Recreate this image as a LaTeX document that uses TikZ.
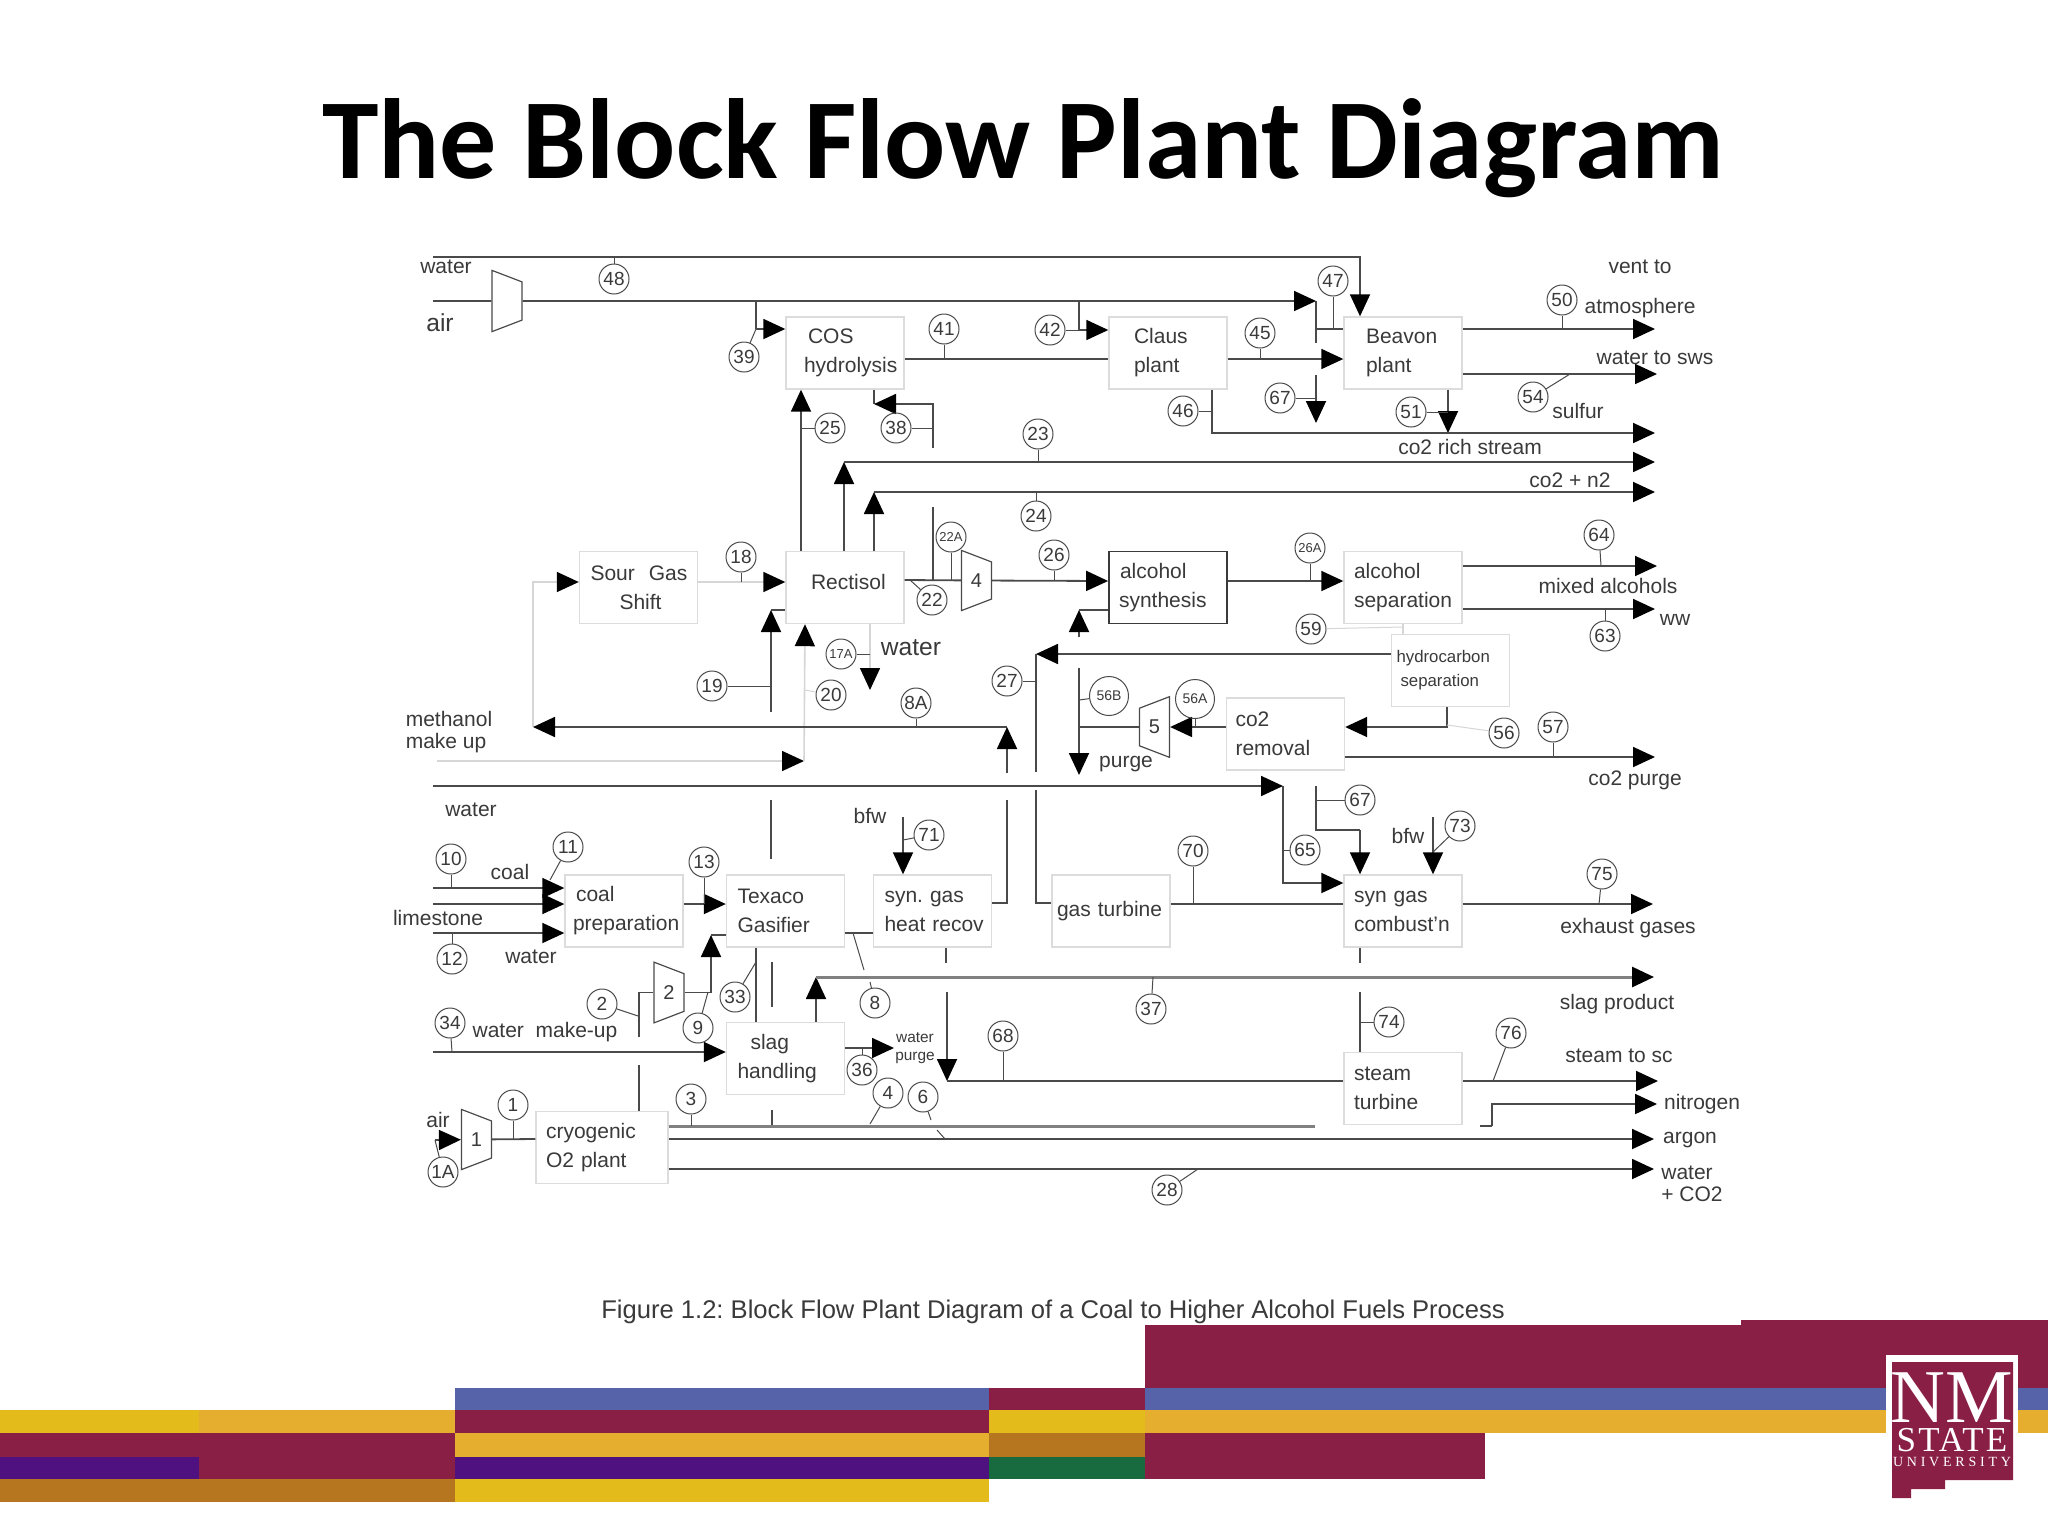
\documentclass[tikz,border=0pt]{standalone}
\usepackage{fontspec}
\setmainfont{Liberation Sans}
\newfontfamily\titlefont{Carlito}
\newfontfamily\logofont{Liberation Serif}
\usetikzlibrary{
  positioning,
  shapes.geometric,
  arrows.meta,
  calc,
}
\frenchspacing
\definecolor{ink}{HTML}{3A3A3A}
\definecolor{wireCol}{HTML}{4A4A4A}
\definecolor{heavyCol}{HTML}{808080}
\definecolor{paleCol}{HTML}{D6D6D6}
\definecolor{boxLine}{HTML}{DCDCDC}
\definecolor{bandMaroon}{HTML}{8A1F45}
\definecolor{bandBlue}{HTML}{5663A8}
\definecolor{bandGold}{HTML}{E6AE2E}
\definecolor{bandYellow}{HTML}{E3BC1C}
\definecolor{bandBrown}{HTML}{B5761F}
\definecolor{bandPurple}{HTML}{4F1080}
\definecolor{bandGreen}{HTML}{176B3F}
\newcommand{\ind}[1]{\hspace*{#1pt}}
\tikzset{
  box/.style={
    rectangle, draw=boxLine, line width=0.7pt, text=ink,
    minimum width=59pt, minimum height=36pt, text width=59pt, align=left,
    inner xsep=0pt, inner ysep=0pt, font=\fontsize{10.5}{14.5}\selectfont,
  },
  darkbox/.style={box, draw=ink, line width=0.9pt},
  smallbox/.style={box, font=\fontsize{8.4}{12}\selectfont},
  tag/.style={
    circle, draw=wireCol, line width=0.5pt, text=ink, minimum size=15pt,
    inner sep=0pt, font=\fontsize{9.5}{11}\selectfont,
  },
  tinytag/.style={tag, font=\fontsize{6.5}{8}\selectfont},
  widetag/.style={tag, minimum size=19.5pt, font=\fontsize{7}{8}\selectfont},
  comp/.style={
    trapezium, draw=wireCol, line width=0.6pt, fill=white, text=ink,
    trapezium left angle=69, trapezium right angle=69,
    minimum width=29pt, minimum height=15pt, inner sep=0pt,
    font=\fontsize{10}{12}\selectfont,
  },
  compR/.style={comp, shape border rotate=270},
  compL/.style={comp, shape border rotate=90},
  pipe/.style={wireCol, line width=0.9pt},
  feed/.style={pipe, -{Triangle[length=11pt, width=10pt, color=black]}},
  palepipe/.style={paleCol, line width=0.8pt},
  palefeed/.style={palepipe, -{Triangle[length=11pt, width=10pt, color=black]}},
  heavypipe/.style={heavyCol, line width=1.5pt},
  heavyfeed/.style={heavypipe, -{Triangle[length=11pt, width=10pt, color=black]}},
  leader/.style={wireCol, line width=0.5pt},
  paleleader/.style={paleCol, line width=0.5pt},
  flowtext/.style={text=ink, inner sep=0pt, align=left, font=\fontsize{10.5}{11}\selectfont},
  bigtext/.style={flowtext, font=\fontsize{12.3}{14}\selectfont},
  tinytext/.style={flowtext, font=\fontsize{7.7}{8.7}\selectfont},
}
\begin{document}
\begin{tikzpicture}[x=0.5pt, y=-0.5pt]

  \useasboundingbox (0,0) rectangle (2048,1536);
  \fill[white] (0,0) rectangle (2048,1536);

  % Colour bands
  \fill[bandYellow] (0,1410) rectangle (199,1433);
  \fill[bandMaroon] (0,1433) rectangle (199,1457);
  \fill[bandPurple] (0,1457) rectangle (199,1479);
  \fill[bandBrown] (0,1479) rectangle (455,1502);
  \fill[bandGold] (199,1410) rectangle (455,1433);
  \fill[bandMaroon] (199,1433) rectangle (455,1479);
  \fill[bandBlue] (455,1388) rectangle (989,1410);
  \fill[bandMaroon] (455,1410) rectangle (989,1433);
  \fill[bandGold] (455,1433) rectangle (989,1457);
  \fill[bandPurple] (455,1457) rectangle (989,1479);
  \fill[bandYellow] (455,1479) rectangle (989,1502);
  \fill[bandMaroon] (989,1388) rectangle (1145,1410);
  \fill[bandYellow] (989,1410) rectangle (1145,1433);
  \fill[bandBrown] (989,1433) rectangle (1145,1457);
  \fill[bandGreen] (989,1457) rectangle (1145,1479);
  \fill[bandMaroon] (1145,1325) rectangle (1741,1388);
  \fill[bandMaroon] (1741,1320) rectangle (2048,1388);
  \fill[bandBlue] (1145,1388) rectangle (2048,1410);
  \fill[bandGold] (1145,1410) rectangle (2048,1433);
  \fill[bandMaroon] (1145,1433) rectangle (1485,1479);

  % Logo
  \fill[white] (1886,1355) rectangle (2018,1440);
  \fill[bandMaroon] (1892,1362) -- (2013,1362) -- (2013,1480) -- (1945,1480) -- (1945,1489) -- (1911,1489) -- (1911,1498) -- (1892,1498) -- cycle;
  \node[white, inner sep=0pt, align=center, font=\logofont\fontsize{7}{14.5}\selectfont\lineskiplimit-100pt\relax] (logo) at (1952,1420) {{\fontsize{38}{14.5}\selectfont NM}\\{\fontsize{17.5}{14.5}\selectfont\addfontfeature{LetterSpace=6}STATE}\\[-7pt]{\addfontfeature{LetterSpace=27}UNIVERSITY}};

  % Title
  \node[black, inner sep=0pt, anchor=base, font=\titlefont\bfseries\fontsize{57}{60}\selectfont] (title) at (1023,178) {The Block Flow Plant Diagram};
  \node[ink, inner sep=0pt, font=\fontsize{12.8}{14}\selectfont] (caption) at (1053,1312) {Figure 1.2: Block Flow Plant Diagram of a Coal to Higher Alcohol Fuels Process};

  % Blocks
  \node[box] (cos) at (845,353) {\ind{11}COS\\\ind{9}hydrolysis};
  \node[box] (claus) at (1168,353) {\ind{12.5}Claus\\\ind{12.5}plant};
  \node[box] (beavon) at (1403,353) {\ind{11}Beavon\\\ind{11}plant};
  \node[box] (sour) at (638.5,587.5) {\ind{5.5}Sour\ \ Gas\\\ind{20}Shift};
  \node[box] (rectisol) at (845,587.5) {\ind{12.5}\raisebox{5.5pt}{Rectisol}};
  \node[darkbox] (alcSyn) at (1168,587.5) {\ind{5.5}alcohol\\\ind{5}synthesis};
  \node[box] (alcSep) at (1403,587.5) {\ind{5}alcohol\\\ind{5}separation};
  \node[smallbox] (hydro) at (1450.5,670.5) {\ind{2.5}hydrocarbon\\\ind{4.5}separation};
  \node[box] (co2rem) at (1285.5,734) {\ind{4.5}co2\\\ind{4.5}removal};
  \node[box] (coalPrep) at (624,911) {\ind{5.5}coal\\\ind{4}preparation};
  \node[box] (texaco) at (785.5,911) {\ind{5.5}Texaco\\\ind{5.5}Gasifier};
  \node[box] (heatRec) at (932.5,911) {\ind{5.5}syn. gas\\\ind{5.5}heat recov};
  \node[box] (gasTurb) at (1111,911) {\ind{2.5}gas turbine};
  \node[box] (synComb) at (1403,911) {\ind{5}syn gas\\\ind{5}combust'n};
  \node[box] (slag) at (785.5,1058.5) {\ind{12}slag\\\ind{5.5}handling};
  \node[box] (steam) at (1403,1088.5) {\ind{5}steam\\\ind{5}turbine};
  \node[box, minimum width=66pt, text width=66pt] (cryo) at (602,1147.5) {\ind{5}cryogenic\\\ind{5}O2 plant};

  % Compressors
  \node[compR] (compAir) at (507,301) {\phantom{0}};
  \node[compR] (comp1) at (476.5,1139.5) {1};
  \node[compR] (comp2) at (669,992.5) {2};
  \node[compR] (comp4) at (976.5,580.5) {4};
  \node[compL] (comp5) at (1154.5,727) {5};

  % Top streams
  \coordinate (waterIn) at (433,257);
  \coordinate (waterDrop) at (1360,257);
  \coordinate (airIn) at (433,301);
  \coordinate (airTip) at (1316,301);
  \coordinate (cosTap) at (756,301);
  \coordinate (cosCorner) at (756,329);
  \coordinate (clausTap) at (1079,301);
  \coordinate (beavonStub) at (1316,343);
  \coordinate (beavonTap) at (1316,329);
  \coordinate (drop67) at (1316,375);
  \coordinate (tip67) at (1316,423);
  \coordinate (rowVent) at (1655,329);
  \coordinate (rowSws) at (1657,374);
  \coordinate (rowRich) at (1655,433);
  \coordinate (sulfurTip) at (1448,433);

  \draw[feed] (waterIn) -- (waterDrop) -- ([xshift=-21.5pt]beavon.north);
  \draw[pipe] (airIn) -- (compAir);
  \draw[feed] (compAir) -- (airTip);
  \draw[pipe] (airTip) -- (beavonStub);
  \draw[pipe] (beavonTap) -- ([yshift=12pt]beavon.west);
  \draw[feed] (drop67) -- (tip67);
  \draw[pipe] (cosTap) -- (cosCorner);
  \draw[feed] (cosCorner) -- ([yshift=12pt]cos.west);
  \draw[feed] (clausTap) |- ([yshift=11.5pt]claus.west);
  \draw[pipe] ([yshift=-3pt]cos.east) -- ([yshift=-3pt]claus.west);
  \draw[feed] ([yshift=-3pt]claus.east) -- ([yshift=-3pt]beavon.west);
  \draw[feed] ([yshift=12pt]beavon.east) -- (rowVent);
  \draw[feed] ([yshift=-10.5pt]beavon.east) -- (rowSws);
  \draw[feed] ([xshift=22.5pt]beavon.south) -- (sulfurTip);
  \draw[feed] ([xshift=22pt]claus.south) |- (rowRich);

  % Rectisol streams
  \coordinate (co2Corner) at (844,462);
  \coordinate (rowCo2) at (1655,462);
  \coordinate (n2Corner) at (874,492);
  \coordinate (rowN2) at (1655,492);
  \coordinate (recyEnd) at (933,448);
  \coordinate (recyTip) at (874,404);
  \coordinate (stub22) at (933,507);
  \coordinate (east22) at (933,580);
  \coordinate (waterTip) at (870,690);
  \coordinate (methEnd) at (804,761);
  \coordinate (methIn) at (437,761);
  \coordinate (methTip) at (533,727);
  \coordinate (wetTip) at (1007,727);
  \coordinate (wetHigh) at (1007,773);
  \coordinate (wetLow) at (1007,800);
  \coordinate (gasTip) at (771,610);
  \coordinate (gasA) at (771,712);
  \coordinate (gasB) at (771,800);
  \coordinate (gasC) at (771,859);
  \coordinate (gasD) at (772,962);
  \coordinate (gasE) at (772,1007);
  \coordinate (gasF) at (772,1110);
  \coordinate (gasG) at (772,1125);

  \draw[feed] ([xshift=-22pt]rectisol.north) -- ([xshift=-22pt]cos.south);
  \draw[feed] ([xshift=-0.5pt]rectisol.north) -- (co2Corner);
  \draw[feed] (co2Corner) -- (rowCo2);
  \draw[feed] ([xshift=14.5pt]rectisol.north) -- (n2Corner);
  \draw[feed] (n2Corner) -- (rowN2);
  \draw[pipe] ([xshift=14.5pt]cos.south) -- (recyTip);
  \draw[feed] (recyEnd) |- (recyTip);
  \draw[pipe] (stub22) -- (east22);
  \draw[pipe] ([yshift=3.75pt]rectisol.east) -- (comp4);
  \draw[feed] (comp4) -- ([yshift=3.25pt]alcSyn.west);
  \draw[palefeed] ([yshift=2.75pt]sour.east) -- ([yshift=2.75pt]rectisol.west);
  \draw[palefeed] (methTip) |- ([yshift=2.75pt]sour.west);
  \draw[palefeed] ([xshift=12.5pt]rectisol.south) -- (waterTip);
  \draw[palefeed] (methIn) -- (methEnd);
  \draw[palefeed] (methEnd) -- ([xshift=-20pt]rectisol.south);
  \draw[feed] (wetTip) -- (methTip);
  \draw[feed] (wetHigh) -- (wetTip);
  \draw[pipe] ([yshift=4pt]heatRec.east) -| (wetLow);
  \draw[feed] (gasA) -- (gasTip);
  \draw[pipe] (gasTip) -- (gasTip -| rectisol.west);
  \draw[pipe] (gasB) -- (gasC);
  \draw[pipe] (gasD) -- (gasE);
  \draw[pipe] (gasF) -- (gasG);

  % Alcohol and co2 streams
  \coordinate (rowMixed) at (1657,566);
  \coordinate (rowWw) at (1655,609);
  \coordinate (synStub) at (1079,637);
  \coordinate (synCorner) at (1079,610);
  \coordinate (backTip) at (1036,654);
  \coordinate (backLow) at (1036,772);
  \coordinate (backHigh) at (1036,790);
  \coordinate (purgeTop) at (1079,668);
  \coordinate (purgeTip) at (1079,775);
  \coordinate (purgeTee) at (1079,727);
  \coordinate (rowPurge) at (1655,757);

  \draw[feed] ([yshift=3.25pt]alcSyn.east) -- ([yshift=3.25pt]alcSep.west);
  \draw[feed] ([yshift=10.75pt]alcSep.east) -- (rowMixed);
  \draw[feed] ([yshift=-10.75pt]alcSep.east) -- (rowWw);
  \draw[palepipe] (alcSep.south) -- (alcSep.south |- hydro.north);
  \draw[feed] ([yshift=8.25pt]hydro.west) -- (backTip);
  \draw[pipe] (backTip) -- (backLow);
  \draw[pipe] (backHigh) |- ([yshift=4pt]gasTurb.west);
  \draw[feed] (synStub) -- (synCorner);
  \draw[pipe] (synCorner) -- ([yshift=-11.25pt]alcSyn.west);
  \draw[feed] (purgeTop) -- (purgeTip);
  \draw[pipe] (comp5) -- (purgeTee);
  \draw[feed] ([yshift=3.5pt]co2rem.west) -- (comp5);
  \draw[feed] ([xshift=-1.75pt]hydro.south) |- ([yshift=3.5pt]co2rem.east);
  \draw[feed] ([yshift=-11.5pt]co2rem.east) -- (rowPurge);

  % Process water and syn gas
  \coordinate (waterLow) at (433,786);
  \coordinate (waterTee) at (1283,786);
  \coordinate (stub67) at (1316,786);
  \coordinate (corner67) at (1360,830);
  \coordinate (bfwComb) at (1433,817);
  \coordinate (bfwHeat) at (903,817);
  \coordinate (rowExhaust) at (1653,904);
  \coordinate (combLow) at (1360,963);
  \coordinate (steamHigh) at (1360,992);

  \draw[feed] (waterLow) -- (waterTee);
  \draw[feed] (waterTee) |- ([yshift=14pt]synComb.west);
  \draw[pipe] (stub67) |- (corner67);
  \draw[feed] (corner67) -- ([xshift=-21.5pt]synComb.north);
  \draw[feed] (bfwComb) -- ([xshift=15pt]synComb.north);
  \draw[feed] (bfwHeat) -- ([xshift=-14.75pt]heatRec.north);
  \draw[pipe] ([yshift=3.5pt]gasTurb.east) -- ([yshift=3.5pt]synComb.west);
  \draw[feed] ([yshift=3.5pt]synComb.east) -- (rowExhaust);
  \draw[pipe] ([xshift=-21.5pt]synComb.south) -- (combLow);
  \draw[pipe] (steamHigh) -- ([xshift=-21.5pt]steam.north);

  % Coal feed and gasifier
  \coordinate (coalIn) at (433,888);
  \coordinate (limeIn) at (433,904);
  \coordinate (coalWater) at (433,933);
  \coordinate (o2A) at (639,1065);
  \coordinate (o2B) at (639,1037);
  \coordinate (compTip) at (711,935);
  \coordinate (mkIn) at (433,1052);

  \draw[feed] (coalIn) -- ([yshift=11.5pt]coalPrep.west);
  \draw[feed] (limeIn) -- ([yshift=3.5pt]coalPrep.west);
  \draw[feed] (coalWater) -- ([yshift=-11pt]coalPrep.west);
  \draw[feed] ([yshift=3.5pt]coalPrep.east) -- ([yshift=3.5pt]texaco.west);
  \draw[pipe] ([xshift=18.5pt]cryo.north) -- (o2A);
  \draw[pipe] (o2B) |- (comp2);
  \draw[feed] (comp2) -| (compTip);
  \draw[pipe] (compTip) -- (compTip -| texaco.west);
  \draw[pipe] ([xshift=-14.75pt]texaco.south) -- ([xshift=-14.75pt]slag.north);
  \draw[pipe] ([yshift=-11pt]texaco.east) -- ([yshift=-11pt]heatRec.west);
  \draw[feed] (mkIn) -- ([yshift=3.25pt]slag.west);

  % Slag, steam and air
  \coordinate (slagCorner) at (816,977);
  \coordinate (rowSlag) at (1654,977);
  \coordinate (purgeOut) at (894,1048);
  \coordinate (heatA) at (946,963);
  \coordinate (heatB) at (947,992);
  \coordinate (heatC) at (947,1081);
  \coordinate (rowSteam) at (1658,1081);
  \coordinate (nitEnd) at (1480,1126);
  \coordinate (nitCorner) at (1492,1126);
  \coordinate (rowNit) at (1657,1104);
  \coordinate (heavyEnd) at (1315,1126);
  \coordinate (rowArgon) at (1654,1139);
  \coordinate (rowCo2w) at (1654,1169);
  \coordinate (airLow) at (435,1140);

  \draw[feed] ([xshift=15.25pt]slag.north) -- (slagCorner);
  \draw[heavyfeed] (slagCorner) -- (rowSlag);
  \draw[feed] ([yshift=5.25pt]slag.east) -- (purgeOut);
  \draw[pipe] ([xshift=6.75pt]heatRec.south) -- (heatA);
  \draw[feed] (heatB) -- (heatC);
  \draw[pipe] (heatC) -- ([yshift=3.75pt]steam.west);
  \draw[feed] ([yshift=3.75pt]steam.east) -- (rowSteam);
  \draw[pipe] (nitEnd) -- (nitCorner);
  \draw[feed] (nitCorner) |- (rowNit);
  \draw[heavypipe] ([yshift=10.75pt]cryo.east) -- (heavyEnd);
  \draw[feed] ([yshift=4.25pt]cryo.east) -- (rowArgon);
  \draw[feed] ([yshift=-10.75pt]cryo.east) -- (rowCo2w);
  \draw[feed] (airLow) -- (comp1);
  \draw[pipe] (comp1) -- ([yshift=4.25pt]cryo.west);

  % Stream tags
  \node[tag] (t48) at (614,279) {48}; \coordinate (j48) at (614,257); \draw[leader] (t48) -- (j48);
  \node[tag] (t39) at (744,357) {39}; \draw[leader] (t39) -- (cosCorner);
  \node[tag] (t41) at (944,329) {41}; \coordinate (j41) at (944,359); \draw[leader] (t41) -- (j41);
  \node[tag] (t42) at (1050,330) {42}; \coordinate (j42) at (1079,330); \draw[leader] (t42) -- (j42);
  \node[tag] (t45) at (1260,333) {45}; \coordinate (j45) at (1260,359); \draw[leader] (t45) -- (j45);
  \node[tag] (t47) at (1333,281) {47}; \coordinate (j47) at (1333,329); \draw[leader] (t47) -- (j47);
  \node[tag] (t50) at (1562,300) {50}; \coordinate (j50) at (1562,329); \draw[leader] (t50) -- (j50);
  \node[tag] (t54) at (1533,397) {54}; \coordinate (j54) at (1570,374); \draw[leader] (t54) -- (j54);
  \node[tag] (t67a) at (1280,398) {67}; \coordinate (j67a) at (1316,398); \draw[leader] (t67a) -- (j67a);
  \node[tag] (t46) at (1183,411) {46}; \coordinate (j46) at (1212,411); \draw[leader] (t46) -- (j46);
  \node[tag] (t51) at (1411,412) {51}; \coordinate (j51) at (1448,412); \draw[leader] (t51) -- (j51);
  \node[tag] (t23) at (1038,434) {23}; \coordinate (j23) at (1038,462); \draw[leader] (t23) -- (j23);
  \node[tag] (t25) at (830,428) {25}; \coordinate (j25) at (801,428); \draw[leader] (t25) -- (j25);
  \node[tag] (t38) at (896,428) {38}; \coordinate (j38) at (933,428); \draw[leader] (t38) -- (j38);
  \node[tag] (t24) at (1036,516) {24}; \coordinate (j24) at (1036,492); \draw[leader] (t24) -- (j24);
  \node[tag] (t18) at (741,557) {18}; \coordinate (j18) at (741,582); \draw[leader] (t18) -- (j18);
  \node[tinytag] (t22A) at (951,537) {22A}; \coordinate (j22A) at (951,580); \draw[leader] (t22A) -- (j22A);
  \node[tag] (t22) at (932,600) {22}; \coordinate (j22) at (910,580); \draw[leader] (t22) -- (j22);
  \node[tag] (t26) at (1054,555) {26}; \coordinate (j26) at (1054,581); \draw[leader] (t26) -- (j26);
  \node[tinytag] (t26A) at (1310,548) {26A}; \coordinate (j26A) at (1310,581); \draw[leader] (t26A) -- (j26A);
  \node[tag] (t64) at (1599,535) {64}; \coordinate (j64) at (1601,566); \draw[leader] (t64) -- (j64);
  \node[tag] (t63) at (1605,636) {63}; \coordinate (j63) at (1605,609); \draw[leader] (t63) -- (j63);
  \node[tag] (t59) at (1311,629) {59}; \coordinate (j59) at (1403,627); \draw[paleleader] (t59) -- (j59);
  \node[tinytag] (t17A) at (841,654) {17A}; \coordinate (j17A) at (870,654); \draw[leader] (t17A) -- (j17A);
  \node[tag] (t19) at (712,686) {19}; \coordinate (j19) at (771,686); \draw[leader] (t19) -- (j19);
  \node[tag] (t20) at (831,695) {20}; \coordinate (j20) at (805,690); \draw[paleleader] (t20) -- (j20);
  \node[tag] (t8A) at (916,703) {8A}; \coordinate (j8A) at (916,727); \draw[leader] (t8A) -- (j8A);
  \node[tag] (t27) at (1007,681) {27}; \coordinate (j27) at (1036,681); \draw[leader] (t27) -- (j27);
  \node[widetag] (t56B) at (1109,696) {56B}; \coordinate (j56B) at (1079,700); \draw[leader] (t56B) -- (j56B);
  \node[widetag] (t56A) at (1195,699) {56A}; \coordinate (j56A) at (1195,727); \draw[leader] (t56A) -- (j56A);
  \node[tag] (t56) at (1504,733) {56}; \coordinate (j56) at (1447,725); \draw[paleleader] (t56) -- (j56);
  \node[tag] (t57) at (1553,727) {57}; \coordinate (j57) at (1553,757); \draw[leader] (t57) -- (j57);
  \node[tag] (t67b) at (1360,800) {67}; \coordinate (j67b) at (1316,800); \draw[leader] (t67b) -- (j67b);
  \node[tag] (t65) at (1305,850) {65}; \coordinate (j65) at (1284,850); \draw[leader] (t65) -- (j65);
  \node[tag] (t73) at (1460,826) {73}; \coordinate (j73) at (1433,852); \draw[leader] (t73) -- (j73);
  \node[tag] (t71) at (929,835) {71}; \coordinate (j71) at (903,840); \draw[leader] (t71) -- (j71);
  \node[tag] (t70) at (1193,851) {70}; \coordinate (j70) at (1193,904); \draw[leader] (t70) -- (j70);
  \node[tag] (t75) at (1602,874) {75}; \coordinate (j75) at (1599,904); \draw[leader] (t75) -- (j75);
  \node[tag] (t10) at (451,859) {10}; \coordinate (j10) at (451,888); \draw[leader] (t10) -- (j10);
  \node[tag] (t11) at (568,847) {11}; \coordinate (j11) at (550,880); \draw[leader] (t11) -- (j11);
  \node[tag] (t12) at (452,959) {12}; \coordinate (j12) at (452,933); \draw[leader] (t12) -- (j12);
  \node[tag] (t13) at (704,862) {13}; \coordinate (j13) at (704,904); \draw[leader] (t13) -- (j13);
  \node[tag] (t34) at (450,1023) {34}; \coordinate (j34) at (452,1052); \draw[leader] (t34) -- (j34);
  \node[tag] (t2) at (602,1004) {2}; \coordinate (j2) at (638,1016); \draw[leader] (t2) -- (j2);
  \node[tag] (t9) at (698,1028) {9}; \coordinate (j9) at (708,992); \draw[leader] (t9) -- (j9);
  \node[tag] (t33) at (735,997) {33}; \coordinate (j33) at (756,962); \draw[leader] (t33) -- (j33);
  \node[tag] (t8) at (875,1003) {8}; \coordinate (j8a) at (870,982); \coordinate (j8b) at (864,970); \coordinate (j8c) at (853,933); \draw[leader] (t8) -- (j8a); \draw[leader] (j8b) -- (j8c);
  \node[tag] (t37) at (1151,1009) {37}; \coordinate (j37) at (1153,977); \draw[leader] (t37) -- (j37);
  \node[tag] (t74) at (1389,1022) {74}; \coordinate (j74) at (1360,1022); \draw[leader] (t74) -- (j74);
  \node[tag] (t68) at (1003,1036) {68}; \coordinate (j68) at (1003,1081); \draw[leader] (t68) -- (j68);
  \node[tag] (t76) at (1511,1033) {76}; \coordinate (j76) at (1493,1081); \draw[leader] (t76) -- (j76);
  \node[tag] (t36) at (862,1070) {36}; \coordinate (j36) at (862,1048); \draw[leader] (t36) -- (j36);
  \node[tag] (t1) at (513,1105) {1}; \coordinate (j1) at (513,1139); \draw[leader] (t1) -- (j1);
  \node[tag] (t3) at (691,1099) {3}; \coordinate (j3) at (691,1126); \draw[leader] (t3) -- (j3);
  \node[tag] (t4) at (888,1093) {4}; \coordinate (j4) at (870,1124); \draw[leader] (t4) -- (j4);
  \node[tag] (t6) at (923,1097) {6}; \coordinate (j6a) at (931,1120); \coordinate (j6b) at (937,1130); \coordinate (j6c) at (945,1139); \draw[leader] (t6) -- (j6a); \draw[leader] (j6b) -- (j6c);
  \node[tag] (t28) at (1167,1190) {28}; \coordinate (j28) at (1198,1169); \draw[leader] (t28) -- (j28);
  \node[tag] (t1A) at (443,1172) {1A}; \draw[leader] (t1A) -- (airLow);

  % Stream names
  \node[flowtext] (nWater1) at (446,267) {water};
  \node[bigtext] (nAir1) at (440,323) {air};
  \node[flowtext, align=center] (nVent) at (1640,289) {vent to\\[9pt]atmosphere};
  \node[flowtext] (nSws) at (1655,358) {water to sws};
  \node[flowtext] (nSulfur) at (1578,411) {sulfur};
  \node[flowtext] (nRich) at (1470,447) {co2 rich stream};
  \node[flowtext] (nN2) at (1570,480) {co2 + n2};
  \node[flowtext] (nMixed) at (1608,586) {mixed alcohols};
  \node[flowtext] (nWw) at (1675,620) {ww};
  \node[bigtext] (nWater2) at (911,648) {water};
  \node[flowtext] (nMeth) at (449,732) {methanol\\make up};
  \node[flowtext] (nPurge) at (1126,764) {purge};
  \node[flowtext] (nCo2p) at (1635,780) {co2 purge};
  \node[flowtext] (nWater3) at (471,810) {water};
  \node[flowtext] (nBfw1) at (870,816) {bfw};
  \node[flowtext] (nBfw2) at (1408,836) {bfw};
  \node[flowtext] (nCoal) at (510,872) {coal};
  \node[flowtext] (nLime) at (438,918) {limestone};
  \node[flowtext] (nWater4) at (531,957) {water};
  \node[flowtext] (nExh) at (1628,928) {exhaust gases};
  \node[flowtext] (nMake) at (545,1032) {water\ \ make-up};
  \node[tinytext, align=center] (nWpurge) at (915,1048) {water\\purge};
  \node[flowtext] (nSlag) at (1617,1004) {slag product};
  \node[flowtext] (nSteam) at (1619,1056) {steam to sc};
  \node[flowtext] (nNit) at (1702,1104) {nitrogen};
  \node[flowtext] (nArgon) at (1690,1140) {argon};
  \node[flowtext] (nWco2) at (1692,1184) {water\\+ CO2};
  \node[flowtext] (nAir2) at (438,1120) {air};

\end{tikzpicture}
\end{document}
